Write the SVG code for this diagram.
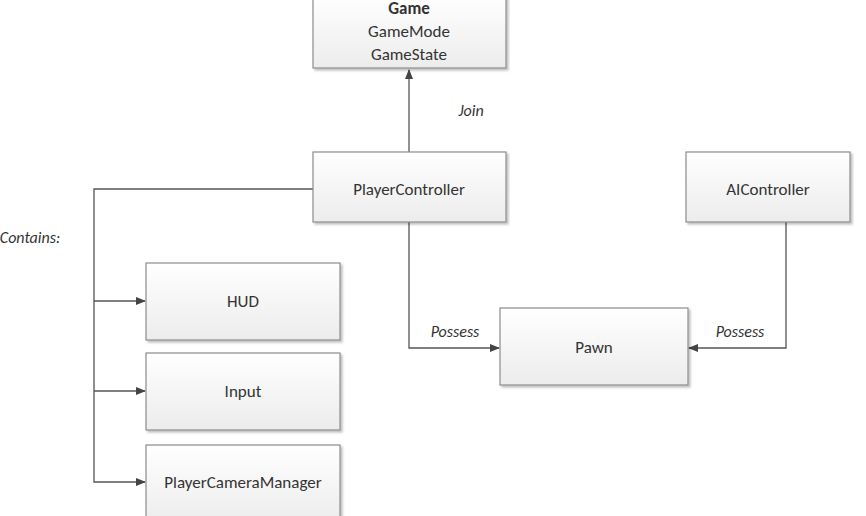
<svg xmlns="http://www.w3.org/2000/svg" width="866" height="516" viewBox="0 0 866 516">
<style>
text{font-family:Carlito,Calibri,"Liberation Sans",sans-serif;font-size:17px;fill:#333;text-anchor:middle}
.b{fill:url(#g);stroke:#8c8c8c;stroke-width:1.2;filter:url(#s)}
.c{fill:none;stroke:#555;stroke-width:1.3}
.l{font-style:italic;font-size:16px}
</style>
<defs>
<linearGradient id="g" x1="0" y1="0" x2="0" y2="1"><stop offset="0" stop-color="#fff"/><stop offset="1" stop-color="#ececec"/></linearGradient>
<filter id="s" x="-5%" y="-5%" width="115%" height="120%"><feDropShadow dx="2" dy="2" stdDeviation="1.2" flood-color="#000" flood-opacity="0.25"/></filter>
<marker id="a" markerWidth="10" markerHeight="8" refX="9" refY="4" orient="auto" markerUnits="userSpaceOnUse"><path d="M0,0L10,4L0,8Z" fill="#444"/></marker>
</defs>
<rect width="866" height="516" fill="#fff"/>
<g id="connectors">
<path class="c" d="M409,152V70" marker-end="url(#a)"/>
<path class="c" d="M313,189H94V482H145" marker-end="url(#a)"/>
<path class="c" d="M94,301H145" marker-end="url(#a)"/>
<path class="c" d="M94,391H145" marker-end="url(#a)"/>
<path class="c" d="M409,222V348H499" marker-end="url(#a)"/>
<path class="c" d="M786,222V348H689" marker-end="url(#a)"/>
</g>
<g id="labels">
<text class="l" x="471" y="116">Join</text>
<text class="l" x="455" y="337">Possess</text>
<text class="l" x="740" y="337">Possess</text>
<text class="l" x="30" y="243">Contains:</text>
</g>
<g id="game"><rect class="b" x="313" y="-5" width="193" height="73"/>
<text x="409" y="14" font-weight="bold">Game</text><text x="409" y="37">GameMode</text><text x="409" y="60">GameState</text></g>
<g id="playercontroller"><rect class="b" x="313" y="152" width="193" height="70"/><text x="409" y="195">PlayerController</text></g>
<g id="aicontroller"><rect class="b" x="686" y="152" width="164" height="70"/><text x="768" y="195">AIController</text></g>
<g id="hud"><rect class="b" x="146" y="263" width="194" height="77"/><text x="243" y="307">HUD</text></g>
<g id="input"><rect class="b" x="146" y="353" width="194" height="77"/><text x="243" y="397">Input</text></g>
<g id="pcm"><rect class="b" x="146" y="445" width="194" height="80"/><text x="243" y="488">PlayerCameraManager</text></g>
<g id="pawn"><rect class="b" x="500" y="308" width="188" height="77"/><text x="594" y="353">Pawn</text></g>
</svg>
